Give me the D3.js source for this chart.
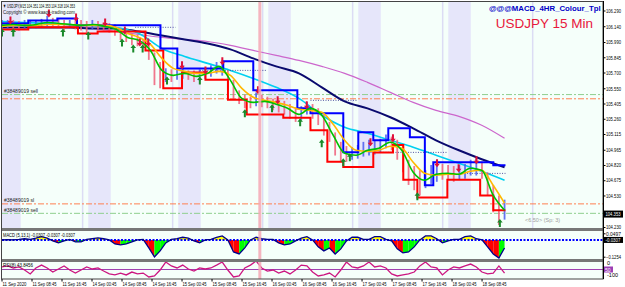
<!DOCTYPE html>
<html>
<head>
<meta charset="utf-8">
<script src="https://cdn.jsdelivr.net/npm/d3@7"></script>
<style>
body { margin: 0; background: #fff; }
svg { display: block; }
text { font-family: "Liberation Sans", Arial, sans-serif; }
</style>
</head>
<body>
<script>
// ---- data (15 min bars, index 0 = 11 Sep 00:45) ----
var lastBar = 536;
var timeLabels = ["11 Sep 2020","11 Sep 08:45","11 Sep 16:45","14 Sep 00:45","14 Sep 08:45","14 Sep 16:45",
  "15 Sep 00:45","15 Sep 08:45","15 Sep 16:45","16 Sep 00:45","16 Sep 08:45","16 Sep 16:45",
  "17 Sep 00:45","17 Sep 08:45","17 Sep 16:45","18 Sep 00:45","18 Sep 08:45"];
var priceTicks = [106.29,106.14,105.99,105.845,105.70,105.55,105.405,105.26,105.115,104.965,104.82,104.675,104.53,104.23];
var lastPrice = 104.353;

var candleHigh = [106.20,106.20,106.20,106.19,106.20,106.20,106.20,106.21,106.24,106.22,
  106.21,106.20,106.20,106.20,106.20,106.19,106.20,106.19,106.18,106.17,
  106.16,106.12,106.09,106.07,106.06,106.02,105.99,105.89,105.80,105.74,
  105.73,105.74,105.77,105.72,105.72,105.73,105.74,105.77,105.80,105.82,
  105.72,105.63,105.53,105.49,105.47,105.51,105.49,105.47,105.45,105.44,
  105.43,105.40,105.37,105.38,105.42,105.40,105.36,105.30,105.23,105.13,
  105.04,105.00,104.99,105.01,105.04,105.06,105.06,105.07,105.11,105.09,
  105.06,105.01,104.87,104.81,104.77,104.77,104.82,104.87,104.83,104.82,
  104.81,104.82,104.83,104.87,104.88,104.85,104.75,104.63,104.53,104.49];
var candleLow = [106.08,106.11,106.10,106.10,106.11,106.12,106.12,106.13,106.14,106.13,
  106.12,106.10,106.12,106.11,106.10,106.08,106.11,106.11,106.10,106.08,
  106.05,106.01,105.99,105.96,105.95,105.93,105.82,105.58,105.55,105.61,
  105.61,105.63,105.64,105.63,105.61,105.62,105.64,105.66,105.69,105.67,
  105.53,105.44,105.40,105.36,105.36,105.38,105.37,105.36,105.34,105.32,
  105.30,105.26,105.23,105.25,105.30,105.26,105.20,105.10,105.04,104.91,
  104.85,104.85,104.87,104.88,104.90,104.91,104.92,104.94,104.98,104.96,
  104.87,104.75,104.63,104.58,104.53,104.60,104.64,104.66,104.68,104.68,
  104.66,104.68,104.69,104.72,104.72,104.69,104.53,104.37,104.25,104.30];

var fastMA = [106.148,106.157,106.148,106.157,106.176,106.167,106.157,106.148,106.157,106.138,
  106.11,106.034,106.005,105.91,105.72,105.673,105.692,105.663,105.692,105.758,
  105.625,105.454,105.416,105.425,105.397,105.359,105.302,105.359,105.293,105.103,
  104.932,104.913,104.96,104.979,105.036,104.96,104.751,104.675,104.732,104.742,
  104.732,104.789,104.77,104.533,104.39];
var slowMA = [106.138,106.148,106.148,106.148,106.157,106.157,106.157,106.148,106.148,106.148,
  106.129,106.072,106.034,105.967,105.834,105.739,105.711,105.692,105.692,105.711,
  105.673,105.549,105.464,105.435,105.416,105.388,105.35,105.34,105.321,105.207,
  105.055,104.96,104.95,104.96,104.998,104.979,104.846,104.742,104.723,104.732,
  104.732,104.76,104.77,104.628,104.457];
var cyanMA = [106.185,106.176,106.167,106.157,106.148,106.129,106.072,105.929,105.853,105.787,105.72,105.644,
  105.559,105.454,105.293,105.179,105.122,105.055,104.989,104.913,104.837,104.76,104.675];
var navyMA = [106.129,106.129,106.129,106.129,106.119,106.119,106.09,106.052,106.014,105.976,105.92,105.834,
  105.758,105.692,105.559,105.425,105.359,105.274,105.169,105.055,104.96,104.875,104.799];
var violetMA = [106.176,106.176,106.167,106.148,106.119,106.09,106.062,106.034,106.014,105.995,105.958,105.91,
  105.863,105.815,105.758,105.692,105.606,105.511,105.416,105.34,105.283,105.198,105.074];

var redStop = [[0,106.11],[28,106.13],[81,106.07],[102,106.09],[153,105.91],[172,105.55],[192,105.70],
  [217,105.63],[241,105.44],[261,105.30],[300,105.27],[329,105.15],[347,104.85],[364,104.80],[396,104.94],
  [417,105.01],[428,104.68],[443,104.51],[475,104.68],[510,104.53],[524,104.39],[537,104.39]];
var blueStop = [[0,106.167],[28,106.195],[59,106.214],[80,106.15],[169,105.929],[187,105.739],[236,105.806],
  [268,105.53],[315,105.36],[329,105.312],[364,104.941],[380,105.131],[396,105.055],[412,105.169],
  [435,105.084],[451,104.628],[460,104.846],[524,104.818],[537,104.818]];

var sellArrows = [[9,106.195],[50,106.262],[79,106.224],[110,106.176],[131,106.10],[147,105.986],[156,105.986],
  [192,105.768],[217,105.72],[235,105.806],[273,105.53],[294,105.435],[325,105.388],[393,105.036],
  [417,105.074],[464,104.837],[487,104.789],[506,104.865]];
var buyArrows = [[0,106.081],[12,106.081],[65,106.081],[92,106.052],[128,105.986],[140,105.929],[150,105.929],
  [176,105.625],[211,105.625],[259,105.312],[288,105.359],[318,105.226],[341,105.027],[364,104.846],
  [371,104.894],[443,104.523],[531,104.267]];
var pivotLines = [[142,185,106.13],[211,283,105.72],[329,379,105.435],[393,475,104.94],[496,537,104.74]];

var sessionStart = [-4,92,188,284,380,476];
var sessionLen = 24;
var dayMarks = [86,182,278,374,470,566];
var alertBar = 275;

var orderLevels = [105.49,105.45,104.45,104.36];
var orderNames = ["#38489019 sell","","#38489019 sl","#38489019 sell"];
var orderColors = ["#8fcf8f","#ff7f50","#ff7f50","#8fcf8f"];

var macdVals = [0,0.003,0,0.004,0.009,0.004,0.014,0.025,0.014,-0.007,
  -0.022,-0.007,0.004,-0.015,-0.015,0.004,0.01,0.016,0.009,0,
  -0.030,-0.037,-0.030,-0.015,0,0.004,-0.060,-0.127,-0.082,-0.022,
  0.004,0.01,0.02,0.014,-0.007,-0.022,0,0.004,0.02,0.03,
  0,-0.090,-0.105,-0.060,0,0.02,0.009,0.004,0.004,-0.022,
  -0.037,-0.030,-0.007,0.014,0.025,0,-0.052,-0.082,-0.060,-0.105,
  -0.067,-0.007,0.02,0.02,0.004,0.004,0.025,0.025,0.004,-0.007,
  -0.067,-0.097,-0.090,-0.052,0,0.03,0.03,0.009,-0.022,-0.007,
  0.004,0.004,0.025,0.03,0.009,0,-0.052,-0.105,-0.135,-0.060];
var rsiVals = [65,71,59,65,47,24,59,76,59,35,53,71,47,29,47,65,53,59,41,24,
  18,29,18,35,24,29,6,12,47,94,71,59,76,53,41,59,53,59,76,94,
  47,6,12,59,76,100,59,41,47,29,41,24,47,76,71,35,12,18,29,6,
  47,94,65,59,71,94,65,71,59,24,12,18,24,35,71,94,65,59,18,47,
  65,59,71,82,65,35,24,29,71,29];
var rsiLevel = 50;

// ---- layout ----
var W = 625, H = 287;
var plotL = 2, plotR = 603;
var mainTop = 2, mainBot = 228, macdTop = 231, macdBot = 259, rsiTop = 262, rsiBot = 279;

var x = d3.scaleLinear().domain([0, 641]).range([plotL, plotR]);
var y = d3.scaleLinear().domain([104.23, 106.29]).range([227, 10.5]);
var yM = d3.scaleLinear().domain([-0.1254, 0.0497]).range([256.7, 233.3]);
var yR = d3.scaleLinear().domain([0, 100]).range([278, 261]);

function sampled(arr) {
  var n = arr.length;
  return arr.map(function(v, k) { return [k * lastBar / (n - 1), v]; });
}

var svg = d3.select("body").append("svg").attr("width", W).attr("height", H);
svg.append("rect").attr("width", W).attr("height", H).attr("fill", "#fff");

var defs = svg.append("defs");
[["clipMain", mainTop, mainBot], ["clipMacd", macdTop, macdBot], ["clipRsi", rsiTop, rsiBot]].forEach(function(c) {
  defs.append("clipPath").attr("id", c[0]).append("rect")
    .attr("x", plotL).attr("y", c[1]).attr("width", plotR - plotL).attr("height", c[2] - c[1]);
});

// pane backgrounds
[[mainTop, mainBot], [macdTop, macdBot], [rsiTop, rsiBot]].forEach(function(p) {
  svg.append("rect").attr("x", plotL).attr("y", p[0]).attr("width", plotR - plotL).attr("height", p[1] - p[0])
    .attr("fill", "#f5fffa");
});

// ---- main pane ----
var gMain = svg.append("g").attr("clip-path", "url(#clipMain)");

gMain.selectAll(".session").data(sessionStart).enter().append("rect")
  .attr("x", function(d) { return x(d); })
  .attr("y", mainTop).attr("height", mainBot - mainTop)
  .attr("width", function(d) { return x(d + sessionLen) - x(d); })
  .attr("fill", "#e6e6fa");

gMain.selectAll(".daymark").data(dayMarks).enter().append("line")
  .attr("x1", function(d) { return x(d); }).attr("x2", function(d) { return x(d); })
  .attr("y1", mainTop).attr("y2", mainBot)
  .attr("stroke", "#dcdcf4").attr("stroke-width", 1.5);

// order lines
orderLevels.forEach(function(p, i) {
  gMain.append("line").attr("x1", plotL).attr("x2", plotR)
    .attr("y1", y(p)).attr("y2", y(p))
    .attr("stroke", orderColors[i]).attr("stroke-width", 1)
    .attr("stroke-dasharray", "6,2,2,2");
  if (orderNames[i]) {
    gMain.append("text").attr("x", 4).attr("y", y(p) - 1.5)
      .attr("font-size", 5).attr("fill", "#222").text(orderNames[i]);
  }
});

function lineOf(curve) {
  return d3.line().x(function(d) { return x(d[0]); }).y(function(d) { return y(d[1]); }).curve(curve);
}

gMain.append("path").datum(sampled(violetMA)).attr("d", lineOf(d3.curveMonotoneX))
  .attr("fill", "none").attr("stroke", "#cc66cc").attr("stroke-width", 1.2);
gMain.append("path").datum(sampled(navyMA)).attr("d", lineOf(d3.curveMonotoneX))
  .attr("fill", "none").attr("stroke", "#0a0a6e").attr("stroke-width", 2);
gMain.append("path").datum(sampled(cyanMA)).attr("d", lineOf(d3.curveMonotoneX))
  .attr("fill", "none").attr("stroke", "#00d0f0").attr("stroke-width", 1.6);

gMain.selectAll(".pivot").data(pivotLines).enter().append("line")
  .attr("x1", function(d) { return x(d[0]); }).attr("x2", function(d) { return x(d[1]); })
  .attr("y1", function(d) { return y(d[2]); }).attr("y2", function(d) { return y(d[2]); })
  .attr("stroke", "#2a2a8a").attr("stroke-width", 0.8).attr("stroke-dasharray", "1,1.5");

// candles
var candles = candleHigh.map(function(h, k) {
  return { i: k * lastBar / (candleHigh.length - 1), h: h, l: candleLow[k] };
});
gMain.selectAll(".candle").data(candles).enter().append("line")
  .attr("x1", function(d) { return x(d.i); }).attr("x2", function(d) { return x(d.i); })
  .attr("y1", function(d) { return y(d.h); }).attr("y2", function(d) { return y(d.l); })
  .attr("stroke", function(d, k) {
    if (k === 0) return "#4a5cf0";
    var prev = candles[k - 1];
    return (d.h + d.l) >= (prev.h + prev.l) ? "#4a5cf0" : "#f0607a";
  })
  .attr("stroke-width", 1.8).attr("opacity", 0.85);

gMain.append("path").datum(redStop).attr("d", lineOf(d3.curveStepAfter))
  .attr("fill", "none").attr("stroke", "#ff0000").attr("stroke-width", 2);
gMain.append("path").datum(blueStop).attr("d", lineOf(d3.curveStepAfter))
  .attr("fill", "none").attr("stroke", "#0000ff").attr("stroke-width", 2);

gMain.append("path").datum(sampled(slowMA)).attr("d", lineOf(d3.curveMonotoneX))
  .attr("fill", "none").attr("stroke", "#ffb800").attr("stroke-width", 1.6);
gMain.append("path").datum(sampled(fastMA)).attr("d", lineOf(d3.curveMonotoneX))
  .attr("fill", "none").attr("stroke", "#00c000").attr("stroke-width", 1.6);

// signal arrows
function arrow(dir) {
  // dir 1 = pointing down, -1 = pointing up; centred on 0,0
  var s = dir;
  return "M0," + (4 * s) + "L-2.8," + (0.5 * s) + "L-1," + (0.5 * s) + "L-1," + (-4 * s) +
    "L1," + (-4 * s) + "L1," + (0.5 * s) + "L2.8," + (0.5 * s) + "Z";
}
gMain.selectAll(".sell").data(sellArrows).enter().append("path")
  .attr("transform", function(d) { return "translate(" + x(d[0]) + "," + y(d[1]) + ")"; })
  .attr("d", arrow(1)).attr("fill", "#e0103a");
gMain.selectAll(".buy").data(buyArrows).enter().append("path")
  .attr("transform", function(d) { return "translate(" + x(d[0]) + "," + y(d[1]) + ")"; })
  .attr("d", arrow(-1)).attr("fill", "#1a8a2a");

// header texts
svg.append("text").attr("x", 3).attr("y", 7.5).attr("font-size", 5.5).attr("fill", "#000")
  .attr("textLength", 72).attr("lengthAdjust", "spacingAndGlyphs")
  .text("\u25BC USDJPY,M15  104.351 104.353 104.318 104.353");
svg.append("text").attr("x", 3).attr("y", 13.5).attr("font-size", 5).attr("fill", "#222")
  .attr("textLength", 72).attr("lengthAdjust", "spacingAndGlyphs")
  .text("Copyright \u00A9 www.kaaos-trading.com");
svg.append("text").attr("x", 489).attr("y", 10.5)
  .attr("font-family", "Liberation Serif, serif").attr("font-weight", "bold")
  .attr("font-size", 7.8).attr("fill", "#0000c8")
  .text("@@@MACD_4HR_Colour_Tpl");
svg.append("text").attr("x", 593).attr("y", 28).attr("text-anchor", "end")
  .attr("font-size", 13.5).attr("fill", "#e8183c").text("USDJPY 15 Min");
svg.append("text").attr("x", 525).attr("y", 222).attr("font-size", 5.5).attr("fill", "#a0a0a0")
  .text("<6.50> (Sp: 3)");

// ---- MACD pane ----
var gMacd = svg.append("g").attr("clip-path", "url(#clipMacd)");
var macdPts = sampled(macdVals);
var seg = d3.area().x(function(d) { return x(d[0]); }).y0(yM(0)).y1(function(d) { return yM(d[1]); });
for (var k = 0; k < macdPts.length - 1; k++) {
  var a = macdPts[k], b = macdPts[k + 1];
  var mid = (a[1] + b[1]) / 2;
  var col = mid >= 0 ? "#ffff00" : (b[1] < a[1] ? "#ff0000" : "#00ff00");
  gMacd.append("path").datum([a, b]).attr("d", seg).attr("fill", col);
}
gMacd.append("line").attr("x1", plotL).attr("x2", plotR).attr("y1", yM(0)).attr("y2", yM(0))
  .attr("stroke", "#0000ff").attr("stroke-width", 2).attr("stroke-dasharray", "2,1.5");
gMacd.append("path").datum(macdPts)
  .attr("d", d3.line().x(function(d) { return x(d[0]); }).y(function(d) { return yM(d[1]); }))
  .attr("fill", "none").attr("stroke", "#00008b").attr("stroke-width", 1.3);
svg.append("text").attr("x", 3).attr("y", 236.5).attr("font-size", 5).attr("fill", "#000")
  .attr("textLength", 72).attr("lengthAdjust", "spacingAndGlyphs")
  .text("MACD (5,13,1) -0.0307 -0.0307 -0.0307");

// ---- RSI pane ----
var gRsi = svg.append("g").attr("clip-path", "url(#clipRsi)");
gRsi.append("line").attr("x1", plotL).attr("x2", plotR).attr("y1", yR(rsiLevel)).attr("y2", yR(rsiLevel))
  .attr("stroke", "#a040b0").attr("stroke-width", 1);
gRsi.append("path").datum(sampled(rsiVals))
  .attr("d", d3.line().x(function(d) { return x(d[0]); }).y(function(d) { return yR(d[1]); }))
  .attr("fill", "none").attr("stroke", "#cc1680").attr("stroke-width", 1.3);
svg.append("text").attr("x", 3).attr("y", 267).attr("font-size", 5).attr("fill", "#000")
  .attr("textLength", 30).attr("lengthAdjust", "spacingAndGlyphs")
  .text("RSI(8) 43.8456");

// alert line through all panes
svg.append("line").attr("x1", x(alertBar)).attr("x2", x(alertBar)).attr("y1", mainTop).attr("y2", rsiBot)
  .attr("stroke", "#f5a9b6").attr("stroke-width", 3).attr("opacity", 0.85);

// separators and frame
[[mainBot, macdTop], [macdBot, rsiTop]].forEach(function(s) {
  svg.append("rect").attr("x", plotL).attr("y", s[0]).attr("width", plotR - plotL).attr("height", s[1] - s[0])
    .attr("fill", "#777");
});
svg.append("rect").attr("x", 1.5).attr("y", 1.5).attr("width", plotR - 1.5).attr("height", rsiBot - 1.5)
  .attr("fill", "none").attr("stroke", "#444").attr("stroke-width", 1);

// ---- price axis ----
var axisG = svg.append("g").attr("transform", "translate(" + plotR + ",0)")
  .call(d3.axisRight(y).tickValues(priceTicks).tickSize(2.5).tickPadding(0.5)
    .tickFormat(d3.format(".3f")));
axisG.select(".domain").remove();
axisG.selectAll("text").attr("font-size", 5.5).attr("fill", "#000")
  .attr("textLength", 15).attr("lengthAdjust", "spacingAndGlyphs");
axisG.selectAll("line").attr("stroke", "#000");

svg.append("rect").attr("x", 604).attr("y", y(lastPrice) - 3.5).attr("width", 19).attr("height", 7).attr("fill", "#000");
svg.append("text").attr("x", 605.5).attr("y", y(lastPrice) + 2).attr("font-size", 5.5).attr("fill", "#fff")
  .attr("textLength", 15).attr("lengthAdjust", "spacingAndGlyphs").text(d3.format(".3f")(lastPrice));

var macdAxis = svg.append("g").attr("transform", "translate(" + plotR + ",0)")
  .call(d3.axisRight(yM).tickValues([0.0497, -0.1254]).tickSize(2.5).tickPadding(0.5).tickFormat(d3.format(".4f")));
macdAxis.select(".domain").remove();
macdAxis.selectAll("text").attr("font-size", 5.5).attr("fill", "#000")
  .attr("textLength", 15).attr("lengthAdjust", "spacingAndGlyphs");
svg.append("rect").attr("x", 604).attr("y", yM(0) - 3).attr("width", 19).attr("height", 6).attr("fill", "#000");
svg.append("text").attr("x", 605.5).attr("y", yM(0) + 2).attr("font-size", 5).attr("fill", "#fff")
  .attr("textLength", 15).attr("lengthAdjust", "spacingAndGlyphs").text("-0.0307");

svg.append("text").attr("x", 607).attr("y", 265).attr("font-size", 5.5).attr("fill", "#000").text("0");
svg.append("rect").attr("x", 604).attr("y", yR(rsiLevel) - 3).attr("width", 9).attr("height", 6).attr("fill", "#9b3fb5");
svg.append("text").attr("x", 605).attr("y", yR(rsiLevel) + 2).attr("font-size", 5).attr("fill", "#fff").text("50");
svg.append("text").attr("x", 607).attr("y", 276.5).attr("font-size", 5.5).attr("fill", "#000").text("-100");

svg.append("line").attr("x1", plotR + 0.5).attr("x2", plotR + 0.5).attr("y1", 1).attr("y2", rsiBot)
  .attr("stroke", "#000").attr("stroke-width", 1);

// ---- time axis ----
var timeIdx = timeLabels.map(function(t, k) { return k * 32; });
var tG = svg.append("g");
tG.selectAll("line").data(timeIdx).enter().append("line")
  .attr("x1", function(d) { return x(d); }).attr("x2", function(d) { return x(d); })
  .attr("y1", rsiBot).attr("y2", rsiBot + 2.5).attr("stroke", "#000");
tG.selectAll("text").data(timeLabels).enter().append("text")
  .attr("x", function(d, k) { return x(timeIdx[k]) + 0.5; })
  .attr("y", 285.5).attr("font-size", 5.5).attr("fill", "#000")
  .attr("textLength", 24).attr("lengthAdjust", "spacingAndGlyphs")
  .text(function(d) { return d; });
</script>
</body>
</html>
